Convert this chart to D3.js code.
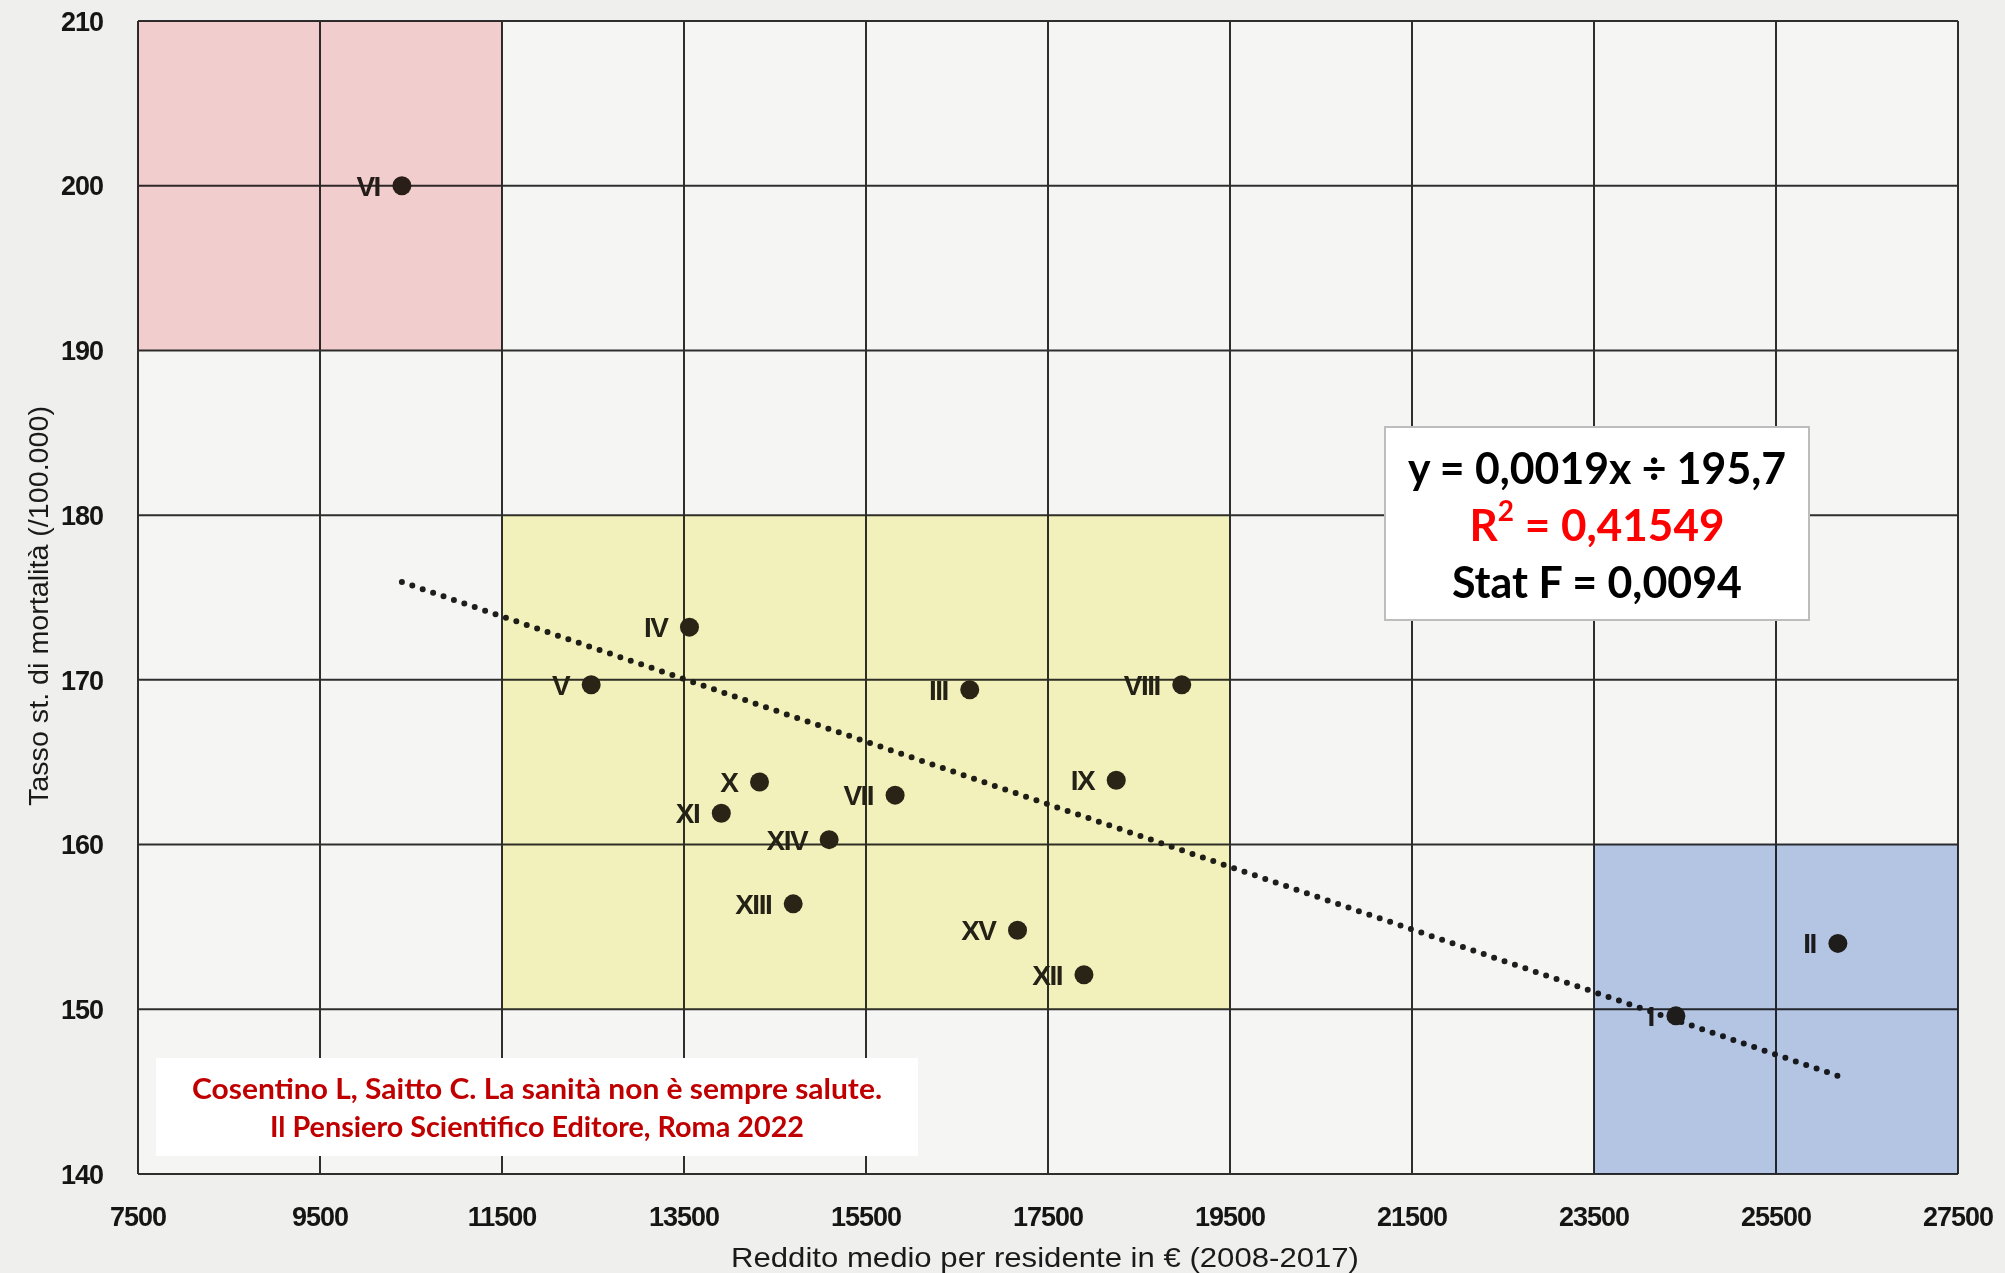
<!DOCTYPE html>
<html>
<head>
<meta charset="utf-8">
<script src="https://cdn.jsdelivr.net/npm/d3@7"></script>
<style>
  html, body { margin: 0; padding: 0; background: #efefee; }
  svg { display: block; }
</style>
</head>
<body>
<svg id="chart" width="2005" height="1273"></svg>
<script>
// Municipi (Roman numerals), average income per resident vs standardised mortality rate
const municipi  = ["I", "II", "III", "IV", "V", "VI", "VII", "VIII", "IX", "X", "XI", "XII", "XIII", "XIV", "XV"];
const income    = [24400, 26180, 16640, 13560, 12480, 10400, 15820, 18970, 18250, 14330, 13910, 17895, 14700, 15095, 17165];
const mortality = [149.6, 154.0, 169.4, 173.2, 169.7, 200.0, 163.0, 169.7, 163.9, 163.8, 161.9, 152.1, 156.4, 160.3, 154.8];

// Axis ticks
const xTickValues = [7500, 9500, 11500, 13500, 15500, 17500, 19500, 21500, 23500, 25500, 27500];
const yTickValues = [140, 150, 160, 170, 180, 190, 200, 210];

// Highlighted zones: [x0, x1, y0, y1]
const zoneNames = ["high mortality", "middle", "high income"];
const zoneX0 = [7500, 11500, 23500];
const zoneX1 = [11500, 19500, 27500];
const zoneY0 = [190, 150, 140];
const zoneY1 = [210, 180, 160];
const zoneColors = ["#fcd6d8", "#fdfbc4", "#bccdef"];

// Regression line (slope, intercept) and statistics
const slope = -0.0019;
const intercept = 195.7;
const statLines = ["y = 0,0019x ÷ 195,7", "0,41549", "Stat F = 0,0094"];

const citation = ["Cosentino L, Saitto C. La sanità non è sempre salute.",
                  "Il Pensiero Scientifico Editore, Roma 2022"];

const svg = d3.select("#chart");

const x = d3.scaleLinear().domain([7500, 27500]).range([138, 1958]);
const y = d3.scaleLinear().domain([140, 210]).range([1174, 21]);

const inkFont = "'Liberation Sans', Arial, sans-serif";
const boxFont = "Lato, 'Open Sans', sans-serif";

// plot background
svg.append("rect")
  .attr("x", x(7500)).attr("y", y(210))
  .attr("width", x(27500) - x(7500)).attr("height", y(140) - y(210))
  .attr("fill", "#f5f5f4");

// grid
const grid = svg.append("g").attr("stroke", "#2e2e2e").attr("stroke-width", 2).attr("fill", "none");
grid.selectAll("line.v").data(xTickValues).join("line")
  .attr("class", "v")
  .attr("x1", d => x(d)).attr("x2", d => x(d))
  .attr("y1", y(210)).attr("y2", y(140));
grid.selectAll("line.h").data(yTickValues).join("line")
  .attr("class", "h")
  .attr("y1", d => y(d)).attr("y2", d => y(d))
  .attr("x1", x(7500)).attr("x2", x(27500));

// tick labels
svg.append("g").selectAll("text").data(yTickValues).join("text")
  .attr("x", 103).attr("y", d => y(d)).attr("dy", "0.36em")
  .attr("text-anchor", "end")
  .attr("font-family", inkFont).attr("font-weight", "bold")
  .attr("font-size", 27).attr("letter-spacing", -1).attr("fill", "#151515")
  .text(d => d);

svg.append("g").selectAll("text").data(xTickValues).join("text")
  .attr("x", d => x(d)).attr("y", 1216).attr("dy", "0.36em")
  .attr("text-anchor", "middle")
  .attr("font-family", inkFont).attr("font-weight", "bold")
  .attr("font-size", 27).attr("letter-spacing", -1).attr("fill", "#151515")
  .text(d => d);

// axis titles
svg.append("text")
  .attr("x", 1045).attr("y", 1257).attr("dy", "0.36em")
  .attr("text-anchor", "middle")
  .attr("font-family", inkFont).attr("font-size", 28).attr("fill", "#1a1a1a")
  .attr("textLength", 628).attr("lengthAdjust", "spacingAndGlyphs")
  .text("Reddito medio per residente in € (2008-2017)");

svg.append("text")
  .attr("transform", "translate(38,606) rotate(-90)")
  .attr("dy", "0.36em")
  .attr("text-anchor", "middle")
  .attr("font-family", inkFont).attr("font-size", 27).attr("fill", "#1a1a1a")
  .attr("textLength", 400).attr("lengthAdjust", "spacingAndGlyphs")
  .text("Tasso st. di mortalità (/100.000)");

// regression line, dotted
const xMin = d3.min(income), xMax = d3.max(income);
svg.append("line")
  .attr("x1", x(xMin)).attr("y1", y(intercept + slope * xMin))
  .attr("x2", x(xMax)).attr("y2", y(intercept + slope * xMax))
  .attr("stroke", "#1e1e1e").attr("stroke-width", 6)
  .attr("stroke-linecap", "round").attr("stroke-dasharray", "0 11");

// points and labels
const pts = municipi.map((m, i) => ({ m, inc: income[i], mort: mortality[i] }));
svg.append("g").selectAll("circle").data(pts).join("circle")
  .attr("cx", d => x(d.inc)).attr("cy", d => y(d.mort))
  .attr("r", 9.5).attr("fill", "#29241c");

svg.append("g").selectAll("text").data(pts).join("text")
  .attr("x", d => x(d.inc) - 22).attr("y", d => y(d.mort)).attr("dy", "0.36em")
  .attr("text-anchor", "end")
  .attr("font-family", inkFont).attr("font-weight", "bold")
  .attr("font-size", 28).attr("fill", "#24221c")
  .attr("letter-spacing", -1.5)
  .text(d => d.m);

// highlighted zones, tinting what lies beneath
svg.append("g")
  .selectAll("rect").data(zoneNames).join("rect")
  .attr("x", (d, i) => x(zoneX0[i])).attr("y", (d, i) => y(zoneY1[i]))
  .attr("width", (d, i) => x(zoneX1[i]) - x(zoneX0[i]))
  .attr("height", (d, i) => y(zoneY0[i]) - y(zoneY1[i]))
  .attr("fill", (d, i) => zoneColors[i])
  .style("mix-blend-mode", "multiply");

// statistics box
const box = svg.append("g");
box.append("rect")
  .attr("x", 1385).attr("y", 427).attr("width", 424).attr("height", 193)
  .attr("fill", "#ffffff").attr("stroke", "#bdbdbd").attr("stroke-width", 2);
box.append("text")
  .attr("x", 1597).attr("y", 468).attr("dy", "0.36em").attr("text-anchor", "middle")
  .attr("font-family", boxFont).attr("font-weight", "bold").attr("font-size", 44)
  .attr("fill", "#000").attr("textLength", 378).attr("lengthAdjust", "spacingAndGlyphs")
  .text(statLines[0]);
const r2 = box.append("text")
  .attr("x", 1597).attr("y", 525).attr("dy", "0.36em").attr("text-anchor", "middle")
  .attr("font-family", boxFont).attr("font-weight", "bold").attr("font-size", 44)
  .attr("fill", "#ff0000");
r2.append("tspan").text("R");
r2.append("tspan").attr("font-size", 28).attr("dy", "-0.7em").text("2");
r2.append("tspan").attr("dy", "0.45em").text(" = " + statLines[1]);
box.append("text")
  .attr("x", 1597).attr("y", 582).attr("dy", "0.36em").attr("text-anchor", "middle")
  .attr("font-family", boxFont).attr("font-weight", "bold").attr("font-size", 44)
  .attr("fill", "#000").attr("textLength", 290).attr("lengthAdjust", "spacingAndGlyphs")
  .text(statLines[2]);

// citation box
const cit = svg.append("g");
cit.append("rect")
  .attr("x", 156).attr("y", 1058).attr("width", 762).attr("height", 98)
  .attr("fill", "#ffffff");
cit.selectAll("text").data(citation).join("text")
  .attr("x", 537).attr("y", (d, i) => 1089 + i * 38).attr("dy", "0.36em")
  .attr("text-anchor", "middle")
  .attr("font-family", boxFont).attr("font-weight", "bold").attr("font-size", 28)
  .attr("fill", "#c00000")
  .attr("textLength", (d, i) => i === 0 ? 690 : 534).attr("lengthAdjust", "spacingAndGlyphs")
  .text(d => d);
</script>
</body>
</html>
